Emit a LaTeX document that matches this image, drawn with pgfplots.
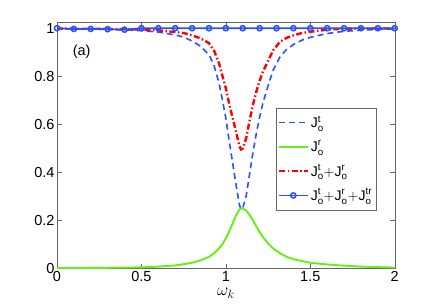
\documentclass[border=0pt]{standalone}
\usepackage{fontspec}
\setmainfont{Liberation Sans}
\usepackage{amsmath}
\usepackage{pgfplots}
\pgfplotsset{compat=1.18}
\usepackage{pgfplotstable}
\definecolor{jblue}{RGB}{45,80,255}
\definecolor{jgreen}{RGB}{100,240,20}
\definecolor{jred}{RGB}{255,0,0}
\definecolor{mblue}{RGB}{40,80,245}
\pgfplotstableread{
x      jt     jr     jtr
0      0.998  0.001  0.999
0.1    0.997  0.001  0.998
0.2    0.997  0.002  0.998
0.3    0.995  0.002  0.997
0.4    0.993  0.003  0.996
0.5    0.990  0.004  0.994
0.6    0.984  0.007  0.991
0.7    0.972  0.012  0.984
0.75   0.963  0.017  0.980
0.8    0.947  0.023  0.970
0.85   0.925  0.033  0.958
0.9    0.890  0.048  0.938
0.93   0.845  0.062  0.907
0.96   0.770  0.083  0.853
0.98   0.700  0.101  0.801
1.0    0.625  0.125  0.750
1.02   0.530  0.154  0.684
1.04   0.440  0.187  0.627
1.06   0.350  0.220  0.570
1.08   0.265  0.244  0.509
1.09   0.245  0.250  0.495
1.10   0.250  0.249  0.499
1.12   0.300  0.241  0.541
1.14   0.390  0.223  0.613
1.16   0.480  0.200  0.680
1.18   0.560  0.175  0.735
1.20   0.630  0.151  0.781
1.22   0.690  0.130  0.820
1.25   0.760  0.103  0.863
1.28   0.825  0.083  0.908
1.32   0.880  0.063  0.943
1.36   0.912  0.048  0.960
1.40   0.932  0.038  0.970
1.45   0.950  0.030  0.980
1.50   0.962  0.023  0.985
1.60   0.978  0.016  0.994
1.70   0.987  0.011  0.998
1.80   0.992  0.007  0.999
1.90   0.995  0.005  0.999
2.00   0.997  0.003  0.999
}\curves
\pgfplotstableread{
x    tot
0    1.000
0.1  0.997
0.2  0.997
0.3  0.996
0.4  0.994
0.5  1.000
0.6  1.000
0.7  1.000
0.8  1.000
0.9  1.000
1.0  1.000
1.1  1.000
1.2  1.000
1.3  1.000
1.4  1.000
1.5  1.000
1.6  1.000
1.7  1.000
1.8  1.000
1.9  1.000
2.0  1.000
}\total
\begin{document}
\begin{tikzpicture}[font=\fontsize{14.5}{17}\selectfont]
\useasboundingbox (-57pt,-34.7pt) rectangle (379pt,268.3pt);
\begin{axis}[
  scale only axis,
  width=337.7pt, height=245.6pt,
  xmin=0, xmax=2, ymin=0, ymax=1.023,
  xtick={0,0.5,1,1.5,2},
  ytick={0,0.2,0.4,0.6,0.8,1},
  /pgf/number format/assume math mode=true,
  axis line style={black!60},
  tick style={black!60},
  major tick length=4.5pt,
  xlabel={$\omega_k$},
  xlabel style={font=\fontsize{18}{20}\selectfont, inner sep=0pt, yshift=-2.5pt},
  yticklabel style={xshift=1pt},
  legend style={at={(0.9455,0.654)}, anchor=north east, draw=black!60,
    font=\fontsize{14}{16}\selectfont, row sep=7pt, inner xsep=2pt, inner ysep=6pt,
    cells={anchor=west}},
  legend cell align=left,
  legend image code/.code={\draw[mark repeat=2,mark phase=2,#1] plot coordinates {(0cm,0cm) (0.5cm,0cm) (1.0cm,0cm)};},
]
\addplot[jblue, line width=1.6pt, dash pattern=on 6pt off 4pt] table[x=x,y=jt]{\curves};
\addlegendentry{$\text{J}^{\text{t}}_{\text{o}}$}
\addplot[jgreen, line width=1.9pt] table[x=x,y=jr]{\curves};
\addlegendentry{$\text{J}^{\text{r}}_{\text{o}}$}
\addplot[jred, line width=2.4pt, dash pattern=on 6pt off 2.5pt on 1.5pt off 2.5pt] table[x=x,y=jtr]{\curves};
\addlegendentry{$\text{J}^{\text{t}}_{\text{o}}{+}\text{J}^{\text{r}}_{\text{o}}$}
\addplot[mblue, line width=1.7pt, mark=o, mark size=2.6pt, mark options={line width=1.5pt, solid}] table[x=x,y=tot]{\total};
\addlegendentry{$\text{J}^{\text{t}}_{\text{o}}{+}\text{J}^{\text{r}}_{\text{o}}{+}\text{J}^{\text{tr}}_{\text{o}}$}
\node at (axis cs:0.146,0.9) {(a)};
\end{axis}
\end{tikzpicture}
\end{document}
